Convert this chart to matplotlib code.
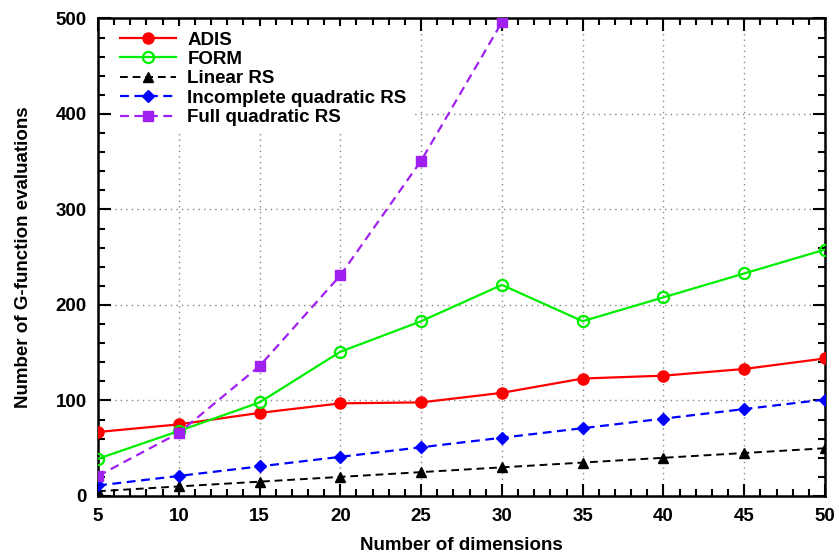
import matplotlib.pyplot as plt
import numpy as np
from matplotlib.ticker import MultipleLocator

# number of dimensions
dims = [5, 10, 15, 20, 25, 30, 35, 40, 45, 50]

# number of G-function evaluations
adis = [67, 75, 87, 97, 98, 108, 123, 126, 133, 144]
form = [39, 68, 98, 151, 183, 221, 183, 208, 233, 258]
linear_rs = [5, 10, 15, 20, 25, 30, 35, 40, 45, 50]
incomplete_rs = [11, 21, 31, 41, 51, 61, 71, 81, 91, 101]
full_rs = [21, 66, 136, 231, 351, 496]

plt.rcParams['font.family'] = ['Liberation Sans', 'DejaVu Sans']
plt.rcParams['font.weight'] = 'bold'

fig = plt.figure(figsize=(8.39, 5.54), dpi=100)
ax = fig.add_axes([0.1168, 0.1047, 0.8665, 0.862])

dash = (0, (4, 2.5))
ax.plot(dims, adis, color='#ff0000', lw=1.6, marker='o', ms=8, label="ADIS", zorder=5)
ax.plot(dims, form, color='#00ee00', lw=1.6, marker='o', ms=8, mfc='none', mew=1.6, label="FORM", zorder=5)
ax.plot(dims, linear_rs, color='black', lw=1.4, ls=dash, marker='^', ms=6.5, label="Linear RS", zorder=5)
ax.plot(dims, incomplete_rs, color='#0000ff', lw=1.6, ls=dash, marker='D', ms=6, label="Incomplete quadratic RS", zorder=5)
ax.plot(dims[:len(full_rs)], full_rs, color='#a020f0', lw=1.6, ls=dash, marker='s', ms=7.5, label="Full quadratic RS", zorder=5)

ax.set_xlim(5, 50)
ax.set_ylim(0, 500)
ax.xaxis.set_major_locator(MultipleLocator(5))
ax.xaxis.set_minor_locator(MultipleLocator(1))
ax.yaxis.set_major_locator(MultipleLocator(100))
ax.yaxis.set_minor_locator(MultipleLocator(20))
ax.tick_params(which='both', direction='in', top=True, right=True, width=1.5, labelsize=13.5)
ax.tick_params(axis='x', pad=9)
ax.tick_params(axis='y', pad=8)
ax.tick_params(which='major', length=9)
ax.tick_params(which='minor', length=5)
for s in ax.spines.values():
    s.set_linewidth(1.8)

ax.grid(True, which='major', color='#888888', ls=(0, (1, 3)), lw=1.0)
ax.set_axisbelow(True)

ax.set_xlabel("Number of dimensions", fontsize=13.5, fontweight='bold', labelpad=8)
ax.set_ylabel("Number of G-function evaluations", fontsize=13.5, fontweight='bold', labelpad=17)

leg = ax.legend(loc='upper left', bbox_to_anchor=(0.0096, 1.004), fontsize=13.5, frameon=True,
                handlelength=3.0, numpoints=1, borderaxespad=0.5, labelspacing=0.12,
                handletextpad=0.6, borderpad=0.3)
leg.get_frame().set_edgecolor('none')
leg.get_frame().set_facecolor('white')
leg.get_frame().set_alpha(1.0)
leg.set_zorder(10)

plt.savefig("out.png", dpi=100)
